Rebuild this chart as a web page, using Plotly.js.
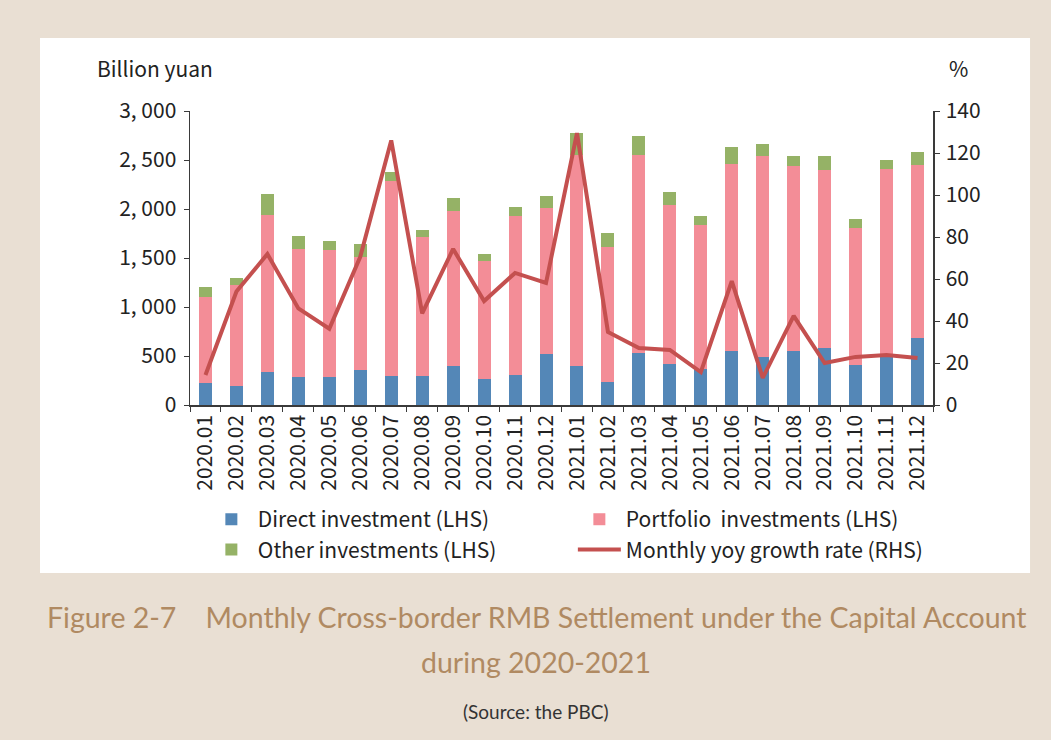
<!DOCTYPE html>
<html>
<head>
<meta charset="utf-8">
<script src="https://cdn.plot.ly/plotly-3.0.1.min.js"></script>
<style>html,body{margin:0;padding:0;background:#e9dfd3;}</style>
</head>
<body>
<div id="chart" style="width:1051px;height:740px;"></div>
<script>
const months = ["2020.01","2020.02","2020.03","2020.04","2020.05","2020.06","2020.07","2020.08","2020.09","2020.10","2020.11","2020.12",
                "2021.01","2021.02","2021.03","2021.04","2021.05","2021.06","2021.07","2021.08","2021.09","2021.10","2021.11","2021.12"];
const direct    = [224,197,337,286,286,357,296,296,398,265,306,520,398,235,530,418,367,551,490,551,582,408,510,684];
const portfolio = [878,1027,1602,1306,1296,1153,1990,1418,1582,1204,1623,1490,2153,1377,2021,1623,1470,1908,2051,1888,1816,1398,1898,1765];
const other     = [102,72,214,132,91,133,92,72,132,72,91,123,225,143,194,132,92,174,122,102,143,92,92,133];
const yoy       = [14.3,54,71.9,46,36.3,70.6,126,43.6,74.3,49.5,62.9,58.1,129.5,34.8,27.1,26.2,15.7,59,12.9,42.4,20,22.9,23.8,22.4];
const leftTicks = [0,500,1000,1500,2000,2500,3000];
const leftTickText = ["0","500","1, 000","1, 500","2, 000","2, 500","3, 000"];
const rightTicks = [0,20,40,60,80,100,120,140];

const F = '"Noto Sans CJK SC", "Noto Sans", sans-serif';
const axisCol = '#3a3a3a';

const traces = [
  {type:'bar', name:'Direct investment (LHS)', x:months, y:direct, marker:{color:'#5487b7'}},
  {type:'bar', name:'Portfolio  investments (LHS)', x:months, y:portfolio, marker:{color:'#f38d97'}},
  {type:'bar', name:'Other investments (LHS)', x:months, y:other, marker:{color:'#95b266'}},
  {type:'scatter', mode:'lines', name:'Monthly yoy growth rate (RHS)', x:months, y:yoy, yaxis:'y2',
   line:{color:'#c4504f', width:4}}
];

const layout = {
  width:1051, height:740,
  paper_bgcolor:'#e9dfd3', plot_bgcolor:'#ffffff',
  margin:{l:190, r:118, t:111, b:335},
  barmode:'stack', bargap:0.58,
  showlegend:true,
  font:{family:F, size:20, color:'#222'},
  xaxis:{type:'category', tickangle:-90, tickson:'boundaries', ticks:'outside', ticklen:5, tickcolor:axisCol,
         showline:true, linecolor:axisCol, linewidth:1.5, showgrid:false, zeroline:false,
         tickfont:{family:F, size:21, color:'#222'}},
  yaxis:{range:[0,3000], tickvals:leftTicks, ticktext:leftTickText, ticks:'outside', ticklen:5, tickcolor:axisCol,
         showline:true, linecolor:axisCol, linewidth:1.5, showgrid:false, zeroline:false,
         tickfont:{family:F, size:21, color:'#222'}, ticklabelstandoff:3},
  yaxis2:{range:[0,140], tickvals:rightTicks, overlaying:'y', side:'right', ticks:'outside', ticklen:5, tickcolor:axisCol,
          showline:true, linecolor:axisCol, linewidth:1.5, showgrid:false, zeroline:false,
          tickfont:{family:F, size:21, color:'#222'}, ticklabelstandoff:2},
  legend:{orientation:'h', x:0.02, xanchor:'left', y:-0.32, yanchor:'top', entrywidth:310, entrywidthmode:'pixels',
          bgcolor:'rgba(0,0,0,0)', font:{family:F, size:21, color:'#222'}, itemwidth:43, tracegroupgap:0, traceorder:'normal'},
  shapes:[{type:'rect', xref:'paper', yref:'paper', x0:-0.2019, x1:1.1306, y0:-0.5714, y1:1.248,
           fillcolor:'#ffffff', line:{width:0}, layer:'below'}],
  annotations:[
    {xref:'paper', yref:'paper', x:(95-190)/743, y:(405-68)/294, xanchor:'left', yanchor:'middle', showarrow:false,
     text:'Billion yuan', font:{family:F, size:21, color:'#222'}},
    {xref:'paper', yref:'paper', x:(958-190)/743, y:(405-68)/294, xanchor:'center', yanchor:'middle', showarrow:false,
     text:'%', font:{family:F, size:21, color:'#222'}},
    {xref:'paper', yref:'paper', x:(536-190)/743, y:(405-617)/294, xanchor:'center', yanchor:'middle', showarrow:false,
     text:'Figure 2-7    Monthly Cross-border RMB Settlement under the Capital Account', font:{family:'Lato, sans-serif', size:28.5, color:'#b08a62'}},
    {xref:'paper', yref:'paper', x:(536-190)/743, y:(405-662)/294, xanchor:'center', yanchor:'middle', showarrow:false,
     text:'during 2020-2021', font:{family:'Lato, sans-serif', size:28.5, color:'#b08a62'}},
    {xref:'paper', yref:'paper', x:(536-190)/743, y:(405-711)/294, xanchor:'center', yanchor:'middle', showarrow:false,
     text:'(Source: the PBC)', font:{family:'Lato, sans-serif', size:19, color:'#333'}}
  ]
};

Plotly.newPlot('chart', traces, layout, {displayModeBar:false, staticPlot:true});
</script>
</body>
</html>
